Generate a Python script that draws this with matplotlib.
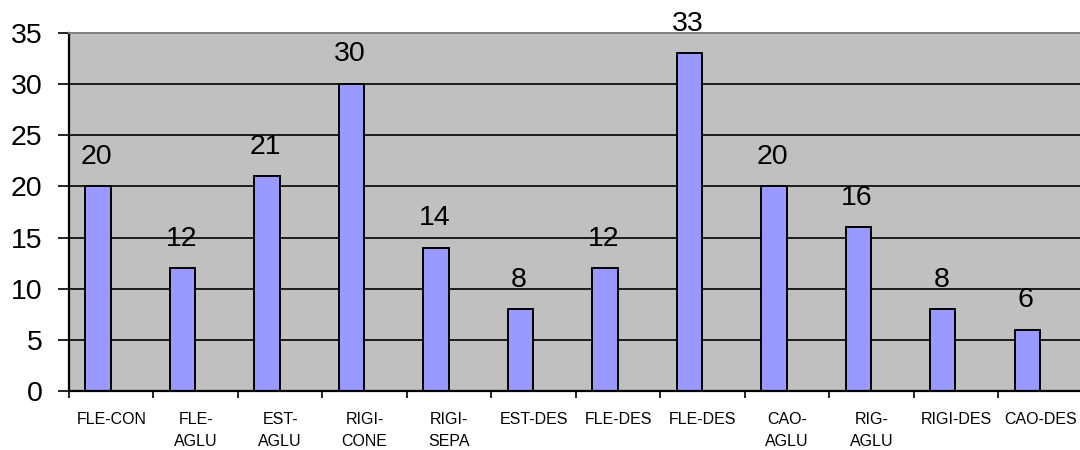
import matplotlib
matplotlib.use("Agg")
import matplotlib.pyplot as plt
import numpy as np

# Counts per category
categories = ["FLE-CON", "FLE-\nAGLU", "EST-\nAGLU", "RIGI-\nCONE", "RIGI-\nSEPA",
              "EST-DES", "FLE-DES", "FLE-DES", "CAO-\nAGLU", "RIG-\nAGLU",
              "RIGI-DES", "CAO-DES"]
values = [20, 12, 21, 30, 14, 8, 12, 33, 20, 16, 8, 6]
y_ticks = [0, 5, 10, 15, 20, 25, 30, 35]

plt.rcParams['font.family'] = ['Liberation Sans', 'DejaVu Sans']

fig = plt.figure(figsize=(10.8, 4.5), dpi=100)
ax = fig.add_axes([0.0639, 0.131, 0.9385, 0.7957])
ax.set_facecolor('#C0C0C0')

x = np.arange(len(categories))
bar_x = x - 0.155

# horizontal gridlines behind the bars
for yv in y_ticks[1:-1]:
    ax.axhline(yv, color='black', lw=1.2, zorder=1)

bars = ax.bar(bar_x, values, width=0.3, color='#9999FF', edgecolor='black',
              linewidth=1.4, zorder=2)

for bx, v in zip(bar_x, values):
    ax.annotate(str(v), (bx, v), xytext=(-1, 12), textcoords='offset points',
                ha='center', va='bottom', fontsize=20.5, color='black')

ax.set_xlim(-0.5, len(categories) - 0.5)
ax.set_ylim(0, 35)
ax.set_yticks(y_ticks)
ax.tick_params(axis='y', labelsize=20.5, length=8, width=1.2, pad=11)

ax.set_xticks(x)
ax.set_xticklabels(categories, fontsize=11.5, linespacing=1.6, va='top')
ax.tick_params(axis='x', which='major', length=0, pad=15)
ax.set_xticks(np.arange(len(categories) + 1) - 0.5, minor=True)
ax.tick_params(axis='x', which='minor', length=5, width=1.2)

for side in ['left', 'bottom']:
    ax.spines[side].set_color('black')
    ax.spines[side].set_linewidth(1.6)
ax.spines['top'].set_color('#808080')
ax.spines['top'].set_linewidth(1.4)
ax.spines['right'].set_visible(False)

fig.savefig('out.png', dpi=100)
